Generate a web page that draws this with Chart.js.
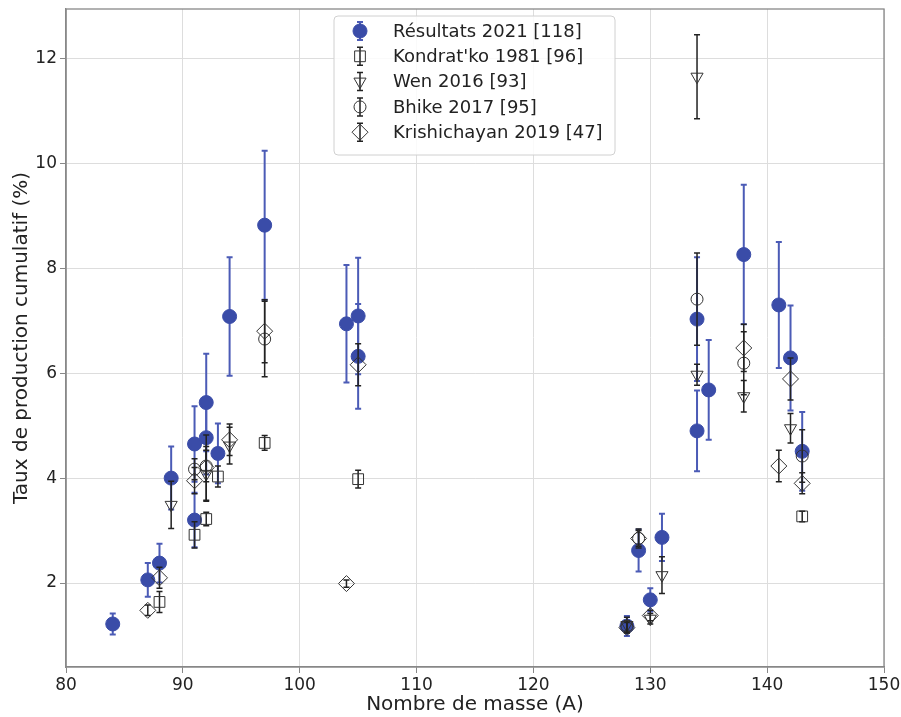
<!DOCTYPE html>
<html><head><meta charset="utf-8">
<script src="https://cdn.jsdelivr.net/npm/chart.js"></script>
<style>html,body{margin:0;padding:0;background:#fff}#wrap{width:901px;height:717px}</style>
</head><body><div id="wrap"><canvas id="c" width="901" height="717"></canvas></div>
<script>
// ---- data ----
const xTicks = [80, 90, 100, 110, 120, 130, 140, 150];
const yTicks = [2, 4, 6, 8, 10, 12];
const seriesLabels = ["Résultats 2021 [118]", "Kondrat'ko 1981 [96]", "Wen 2016 [93]", "Bhike 2017 [95]", "Krishichayan 2019 [47]"];

const resA   = [84, 87, 88, 89, 91, 91, 92, 92, 93, 94, 97, 104, 105, 105, 128, 129, 130, 131, 134, 134, 135, 138, 141, 142, 143];
const resY   = [1.22, 2.06, 2.38, 4.0, 4.65, 3.2, 5.44, 4.77, 4.47, 7.08, 8.82, 6.94, 7.09, 6.32, 1.18, 2.62, 1.68, 2.87, 7.03, 4.9, 5.68, 8.26, 7.3, 6.29, 4.51];
const resErr = [0.2, 0.32, 0.37, 0.6, 0.72, 0.52, 0.93, 0.7, 0.57, 1.13, 1.42, 1.12, 1.11, 1.0, 0.19, 0.4, 0.22, 0.45, 1.18, 0.77, 0.95, 1.33, 1.2, 1.0, 0.75];

const konA   = [88, 91, 92, 93, 97, 105, 143];
const konY   = [1.64, 2.92, 3.22, 4.03, 4.67, 3.98, 3.27];
const konErr = [0.2, 0.25, 0.13, 0.2, 0.14, 0.17, 0.1];

const wenA   = [89, 92, 94, 128, 130, 131, 134, 134, 138, 142];
const wenY   = [3.49, 4.08, 4.62, 1.2, 1.32, 2.15, 11.65, 5.97, 5.56, 4.95];
const wenErr = [0.45, 0.52, 0.35, 0.15, 0.1, 0.35, 0.8, 0.2, 0.3, 0.28];

const bhiA   = [91, 92, 97, 128, 129, 134, 138, 143];
const bhiY   = [4.17, 4.23, 6.65, 1.18, 2.85, 7.41, 6.19, 4.42];
const bhiErr = [0.2, 0.3, 0.72, 0.1, 0.15, 0.88, 0.6, 0.5];

const kriA   = [87, 88, 91, 92, 94, 97, 104, 105, 128, 129, 130, 138, 141, 142, 143];
const kriY   = [1.48, 2.1, 3.95, 4.2, 4.73, 6.8, 1.99, 6.16, 1.15, 2.85, 1.38, 6.48, 4.23, 5.89, 3.9];
const kriErr = [0.1, 0.2, 0.25, 0.62, 0.3, 0.6, 0.07, 0.4, 0.1, 0.18, 0.1, 0.45, 0.3, 0.4, 0.2];

// ---- styles ----
const BLUE = '#3a4ca8';
const BLUE_ERR = '#4b5bb6';
const DARK = '#333333';

function pts(a, y) { return a.map((v, i) => ({x: v, y: y[i]})); }

const styles = [
  {pointStyle: 'circle', radius: 7, fill: BLUE, stroke: BLUE, lw: 1, rot: 0, errColor: BLUE_ERR, errWidth: 2},
  {pointStyle: 'rect', radius: 7.6, fill: 'rgba(0,0,0,0)', stroke: DARK, lw: 1, rot: 0, errColor: '#222', errWidth: 1.5},
  {pointStyle: 'triangle', radius: 7, fill: 'rgba(0,0,0,0)', stroke: DARK, lw: 1, rot: 180, errColor: '#222', errWidth: 1.5},
  {pointStyle: 'circle', radius: 6, fill: 'rgba(0,0,0,0)', stroke: DARK, lw: 1, rot: 0, errColor: '#222', errWidth: 1.5},
  {pointStyle: 'rectRot', radius: 8, fill: 'rgba(0,0,0,0)', stroke: DARK, lw: 1, rot: 0, errColor: '#222', errWidth: 1.5}
];
const seriesData = [[resA, resY, resErr], [konA, konY, konErr], [wenA, wenY, wenErr], [bhiA, bhiY, bhiErr], [kriA, kriY, kriErr]];

const datasets = seriesData.map((s, i) => ({
  label: seriesLabels[i],
  data: pts(s[0], s[1]),
  errors: s[2],
  errColor: styles[i].errColor,
  errWidth: styles[i].errWidth,
  pointStyle: styles[i].pointStyle,
  pointRadius: styles[i].radius,
  pointRotation: styles[i].rot,
  backgroundColor: styles[i].fill,
  borderColor: styles[i].stroke,
  pointBorderWidth: styles[i].lw,
  showLine: false,
  order: 5 - i
}));

const errorBarPlugin = {
  id: 'errbars',
  beforeDatasetDraw(chart, args) {
    const ds = chart.data.datasets[args.index];
    if (!ds.errors) return;
    const ys = chart.scales.y;
    const ctx = chart.ctx;
    ctx.save();
    ctx.strokeStyle = ds.errColor;
    ctx.lineWidth = ds.errWidth;
    args.meta.data.forEach((pt, i) => {
      const v = ds.data[i].y, e = ds.errors[i];
      const top = ys.getPixelForValue(v + e), bot = ys.getPixelForValue(v - e);
      const x = pt.x;
      ctx.beginPath();
      ctx.moveTo(x, top); ctx.lineTo(x, bot);
      ctx.moveTo(x - 3, top); ctx.lineTo(x + 3, top);
      ctx.moveTo(x - 3, bot); ctx.lineTo(x + 3, bot);
      ctx.stroke();
    });
    ctx.restore();
  }
};

function drawMarker(ctx, st, x, y) {
  const r = st.radius;
  ctx.save();
  ctx.fillStyle = st.fill; ctx.strokeStyle = st.stroke; ctx.lineWidth = st.lw;
  ctx.beginPath();
  if (st.pointStyle === 'circle') {
    ctx.arc(x, y, r, 0, Math.PI * 2);
  } else if (st.pointStyle === 'rect') {
    const s = Math.SQRT1_2 * r;
    ctx.rect(x - s, y - s, 2 * s, 2 * s);
  } else if (st.pointStyle === 'triangle') {
    const a = st.rot * Math.PI / 180;
    for (let k = 0; k < 3; k++) {
      const ang = a + k * 2 * Math.PI / 3;
      const px = x + Math.sin(ang) * r, py = y - Math.cos(ang) * r;
      if (k === 0) ctx.moveTo(px, py); else ctx.lineTo(px, py);
    }
    ctx.closePath();
  } else if (st.pointStyle === 'rectRot') {
    ctx.moveTo(x - r, y); ctx.lineTo(x, y - r); ctx.lineTo(x + r, y); ctx.lineTo(x, y + r); ctx.closePath();
  }
  ctx.fill(); ctx.stroke();
  ctx.restore();
}

const framePlugin = {
  id: 'frame',
  afterDraw(chart) {
    const ctx = chart.ctx, a = chart.chartArea;
    ctx.save();
    ctx.strokeStyle = '#888888';
    ctx.lineWidth = 1.3;
    ctx.strokeRect(a.left, a.top, a.right - a.left, a.bottom - a.top);
    ctx.restore();

    // legend
    const bx = 334, by = 16, bw = 281, bh = 139, rr = 4;
    ctx.save();
    ctx.fillStyle = 'rgba(255,255,255,0.85)';
    ctx.strokeStyle = '#d0d0d0';
    ctx.lineWidth = 1;
    ctx.beginPath();
    ctx.moveTo(bx + rr, by); ctx.lineTo(bx + bw - rr, by); ctx.quadraticCurveTo(bx + bw, by, bx + bw, by + rr);
    ctx.lineTo(bx + bw, by + bh - rr); ctx.quadraticCurveTo(bx + bw, by + bh, bx + bw - rr, by + bh);
    ctx.lineTo(bx + rr, by + bh); ctx.quadraticCurveTo(bx, by + bh, bx, by + bh - rr);
    ctx.lineTo(bx, by + rr); ctx.quadraticCurveTo(bx, by, bx + rr, by);
    ctx.closePath(); ctx.fill(); ctx.stroke();
    ctx.font = '18px "DejaVu Sans"';
    ctx.fillStyle = '#222';
    ctx.textBaseline = 'middle';
    chart.data.datasets.forEach((ds, i) => {
      const cy = 31 + i * 25.3, cx = 360;
      const st = styles[i];
      ctx.strokeStyle = st.errColor; ctx.lineWidth = st.errWidth;
      ctx.beginPath();
      ctx.moveTo(cx, cy - 9); ctx.lineTo(cx, cy + 9);
      ctx.moveTo(cx - 3, cy - 9); ctx.lineTo(cx + 3, cy - 9);
      ctx.moveTo(cx - 3, cy + 9); ctx.lineTo(cx + 3, cy + 9);
      ctx.stroke();
      drawMarker(ctx, st, cx, cy);
      ctx.fillStyle = '#222';
      ctx.fillText(ds.label, 393, cy + 1);
    });
    ctx.restore();
  }
};

new Chart(document.getElementById('c'), {
  type: 'scatter',
  data: {datasets},
  plugins: [errorBarPlugin, framePlugin],
  options: {
    responsive: false,
    animation: false,
    layout: {padding: {top: 0, right: 17, left: 0, bottom: 0}},
    plugins: {legend: {display: false}, tooltip: {enabled: false}},
    scales: {
      x: {
        type: 'linear', min: 80, max: 150,
        afterBuildTicks: s => { s.ticks = xTicks.map(v => ({value: v})); },
        afterFit: s => { s.height = 50; s.paddingLeft = 0; s.paddingRight = 0; },
        grid: {color: '#dddddd', lineWidth: 1, tickLength: 6, tickColor: '#888888'},
        border: {color: '#888888', width: 1.3},
        ticks: {font: {family: 'DejaVu Sans', size: 17}, color: '#222', padding: 2, maxRotation: 0},
        title: {display: true, text: 'Nombre de masse (A)', font: {family: 'DejaVu Sans', size: 20}, color: '#222', padding: {top: 0, bottom: 0}}
      },
      y: {
        type: 'linear', min: 0.4, max: 12.94,
        afterBuildTicks: s => { s.ticks = yTicks.map(v => ({value: v})); },
        afterFit: s => { s.width = 66; s.paddingTop = 0; s.paddingBottom = 0; },
        grid: {color: '#dddddd', lineWidth: 1, tickLength: 6, tickColor: '#888888'},
        border: {color: '#888888', width: 1.3},
        ticks: {font: {family: 'DejaVu Sans', size: 17}, color: '#222', padding: 3},
        title: {display: true, text: 'Taux de production cumulatif (%)', font: {family: 'DejaVu Sans', size: 20}, color: '#222', padding: {top: 10, bottom: 0}}
      }
    }
  }
});
</script>
</body></html>
